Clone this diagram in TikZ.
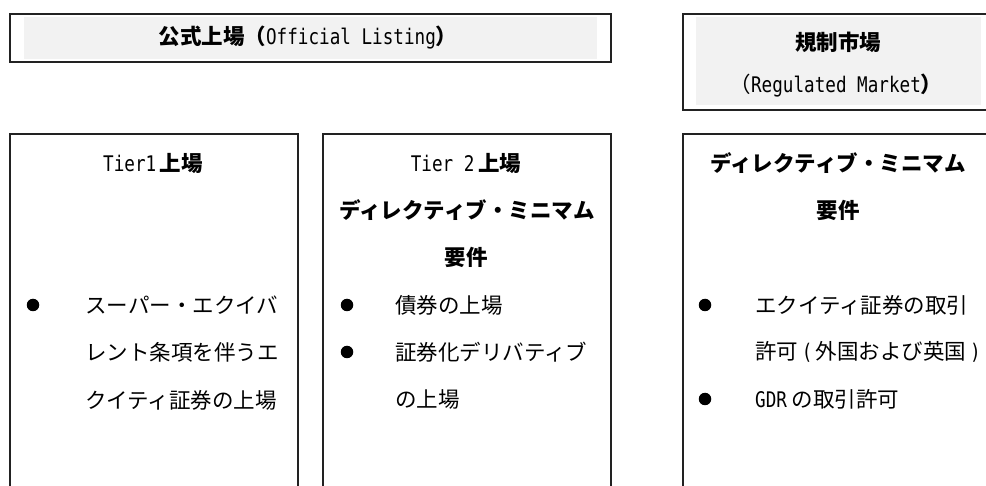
\documentclass[tikz,border=0pt]{standalone}
\usepackage{fontspec}
\setmainfont{Noto Sans CJK JP}
\newfontfamily\lat[FakeStretch=0.82]{DejaVu Sans Mono}
\definecolor{edge}{HTML}{222222}
\definecolor{panel}{HTML}{F2F2F2}
\tikzset{
  frame/.style={draw=edge, line width=1.6pt, inner sep=0pt, anchor=north west},
  greybg/.style={fill=panel, inner sep=0pt, anchor=north west},
  txt/.style={inner sep=0pt, font=\fontsize{21.5pt}{23pt}\selectfont},
  item/.style={txt, anchor=west},
  dot/.style={circle, fill=black, inner sep=0pt, minimum size=12.5pt}
}
\begin{document}
\begin{tikzpicture}[x=1pt,y=-1pt]
\useasboundingbox (0,0) rectangle (986,486);
\clip (0,0) rectangle (986,486);
% top boxes
\node[frame, minimum width=601pt, minimum height=48pt] (official) at (9,13) {};
\node[greybg, minimum width=573pt, minimum height=42pt] (officialbg) at (24,17) {};
\node[frame, minimum width=313pt, minimum height=96pt] (regulated) at (682,13) {};
\node[greybg, minimum width=285pt, minimum height=88pt] (regulatedbg) at (696,17) {};
% lower boxes
\node[frame, minimum width=288pt, minimum height=380pt] (tierone) at (9,133) {};
\node[frame, minimum width=288pt, minimum height=380pt] (tiertwo) at (322,133) {};
\node[frame, minimum width=313pt, minimum height=380pt] (regbox) at (682,133) {};
% titles
\node[txt] (officialtxt) at (308,38) {\textbf{公式上場（}{\lat Official Listing}\textbf{）}};
\node[txt] (regtitle) at (838,42) {\textbf{規制市場}};
\node[txt] (regsub) at (836,86) {（{\lat Regulated Market}\textbf{）}};
% box 1
\node[txt] (t1head) at (153,163) {{\lat Tier1}\,\textbf{上場}};
\node[dot] (b1a) at (33,305) {};
\node[item] (t1l1) at (85,305) {スーパー・エクイバ};
\node[item] (t1l2) at (85,352) {レント条項を伴うエ};
\node[item] (t1l3) at (85,400) {クイティ証券の上場};
% box 2
\node[txt] (t2head) at (466,163) {{\lat Tier 2}\,\textbf{上場}};
\node[txt] (t2dm) at (467,210) {\textbf{ディレクティブ・ミニマム}};
\node[txt] (t2req) at (466,257) {\textbf{要件}};
\node[dot] (b2a) at (347,305) {};
\node[item] (t2l1) at (395,305) {債券の上場};
\node[dot] (b2b) at (347,352) {};
\node[item] (t2l2) at (395,352) {証券化デリバティブ};
\node[item] (t2l3) at (395,399) {の上場};
% box 3
\node[txt] (t3dm) at (838,163) {\textbf{ディレクティブ・ミニマム}};
\node[txt] (t3req) at (838,210) {\textbf{要件}};
\node[dot] (b3a) at (705,305) {};
\node[item] (t3l1) at (755,305) {エクイティ証券の取引};
\node[item] (t3l2) at (755,352) {許可\,{\lat(}\,外国および英国\,{\lat)}};
\node[dot] (b3b) at (705,399) {};
\node[item] (t3l3) at (755,399) {{\lat GDR} の取引許可};
\end{tikzpicture}
\end{document}
